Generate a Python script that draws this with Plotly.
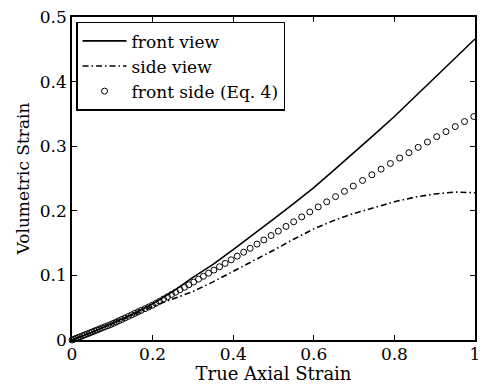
import plotly.graph_objects as go

# front view (solid line)
front_x = [0, 0.05, 0.1, 0.15, 0.2, 0.25, 0.3, 0.35, 0.4, 0.45, 0.5, 0.55, 0.6, 0.65,
           0.7, 0.75, 0.8, 0.85, 0.9, 0.95, 1.0]
front_y = [0, 0.012, 0.026, 0.040, 0.056, 0.075, 0.097, 0.117, 0.140, 0.163, 0.187,
           0.211, 0.236, 0.263, 0.290, 0.318, 0.346, 0.376, 0.405, 0.436, 0.466]

# side view (dash-dot line)
side_x = [0, 0.1, 0.2, 0.25, 0.3, 0.35, 0.4, 0.45, 0.5, 0.55, 0.6, 0.65, 0.7, 0.75,
          0.8, 0.85, 0.9, 0.95, 1.0]
side_y = [0, 0.025, 0.052, 0.063, 0.075, 0.090, 0.106, 0.122, 0.139, 0.156, 0.172,
          0.185, 0.196, 0.205, 0.214, 0.221, 0.226, 0.229, 0.228]

# front side (Eq. 4) circles: x positions and the curve they follow
circ_x = [0, 0.005, 0.010, 0.015, 0.020, 0.026, 0.032, 0.038, 0.044, 0.050, 0.056,
          0.062, 0.068, 0.075, 0.082, 0.089, 0.096, 0.103, 0.110, 0.117, 0.124, 0.132,
          0.140, 0.148, 0.156, 0.164, 0.172, 0.181, 0.190, 0.199, 0.208, 0.217, 0.227,
          0.237, 0.247, 0.257, 0.268, 0.279, 0.290, 0.302, 0.314, 0.326, 0.339, 0.352,
          0.366, 0.380, 0.395, 0.410, 0.426, 0.442, 0.459, 0.476, 0.494, 0.512, 0.531,
          0.550, 0.570, 0.590, 0.611, 0.632, 0.654, 0.676, 0.698, 0.721, 0.744, 0.767,
          0.790, 0.813, 0.836, 0.859, 0.882, 0.905, 0.928, 0.951, 0.974, 0.997]
circ_curve_x = [0, 0.1, 0.2, 0.3, 0.4, 0.5, 0.6, 0.7, 0.8, 0.9, 1.0]
circ_curve_y = [0, 0.025, 0.054, 0.089, 0.126, 0.164, 0.202, 0.239, 0.277, 0.313, 0.347]

x_ticks = [0, 0.2, 0.4, 0.6, 0.8, 1]
x_tick_labels = ["0", "0.2", "0.4", "0.6", "0.8", "1"]
y_ticks = [0, 0.1, 0.2, 0.3, 0.4, 0.5]
y_tick_labels = ["0", "0.1", "0.2", "0.3", "0.4", "0.5"]


def interp(x, xs, ys):
    for i in range(len(xs) - 1):
        if xs[i] <= x <= xs[i + 1]:
            t = (x - xs[i]) / (xs[i + 1] - xs[i])
            return ys[i] + t * (ys[i + 1] - ys[i])
    return ys[-1]


circ_y = [interp(x, circ_curve_x, circ_curve_y) for x in circ_x]

FONT = "DejaVu Serif, Liberation Serif, serif"

fig = go.Figure()
fig.add_trace(go.Scatter(x=front_x, y=front_y, mode="lines", name="front view",
                         line=dict(color="black", width=1.6)))
fig.add_trace(go.Scatter(x=side_x, y=side_y, mode="lines", name="side view",
                         line=dict(color="black", width=1.6, dash="6px,3px,1.5px,3px")))
fig.add_trace(go.Scatter(x=circ_x, y=circ_y, mode="markers", name="front side (Eq. 4)",
                         cliponaxis=False,
                         marker=dict(symbol="circle-open", size=6, color="black",
                                     line=dict(width=1, color="black"))))

axis_common = dict(showgrid=False, zeroline=False, showline=True, linecolor="black",
                   linewidth=1.5, mirror="ticks", ticks="inside", ticklen=5,
                   tickcolor="black", tickwidth=1,
                   tickfont=dict(family=FONT, size=17, color="black"))

fig.update_layout(
    width=484, height=384,
    margin=dict(l=72, r=4, t=17, b=44),
    paper_bgcolor="white", plot_bgcolor="white",
    font=dict(family=FONT, color="black"),
    xaxis=dict(range=[0, 1], tickvals=x_ticks, ticktext=x_tick_labels,
               title=dict(text="True Axial Strain", font=dict(family=FONT, size=18),
                          standoff=1),
               ticklabelstandoff=-2,
               **axis_common),
    yaxis=dict(range=[0, 0.5], tickvals=y_ticks, ticktext=y_tick_labels,
               title=dict(text="Volumetric Strain", font=dict(family=FONT, size=17),
                          standoff=6),
               ticklabelstandoff=0,
               **axis_common),
    legend=dict(x=0.01, y=0.985, xanchor="left", yanchor="top",
                bgcolor="white", bordercolor="black", borderwidth=1.5,
                font=dict(family=FONT, size=17, color="black"),
                tracegroupgap=0, itemwidth=44),
    showlegend=True,
)

fig.write_html("out.html", config={"displayModeBar": False},
               post_script="document.body.style.margin='0';")
